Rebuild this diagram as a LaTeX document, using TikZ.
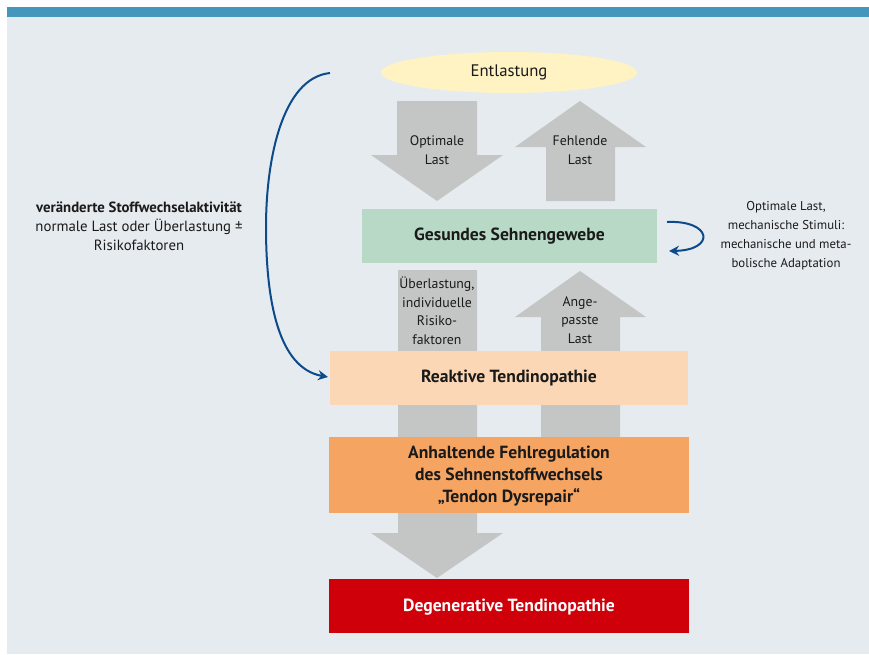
\documentclass[tikz,border=0pt]{standalone}
\usepackage{fontspec}
\setmainfont{PT Sans}
\usetikzlibrary{arrows.meta,shapes.geometric}
\definecolor{bgc}{HTML}{E6EBF0}
\definecolor{barc}{HTML}{4496BC}
\definecolor{ellc}{HTML}{FFF3C4}
\definecolor{grayc}{HTML}{C4C6C5}
\definecolor{greenc}{HTML}{B9D9C7}
\definecolor{peachc}{HTML}{FBD7B5}
\definecolor{orangec}{HTML}{F5A561}
\definecolor{redc}{HTML}{D0000B}
\definecolor{bluec}{HTML}{0D4A8A}
\definecolor{txtc}{HTML}{1A1A1A}
\tikzset{
  boxtxt/.style={font=\fontsize{17.6}{22}\selectfont\bfseries,text=txtc,inner sep=0pt,align=center},
  blockarrow/.style={fill=grayc,draw=none},
  lbl/.style={font=\fontsize{13.8}{18.5}\selectfont,text=txtc,align=center,inner sep=0pt},
  curved/.style={draw=bluec,line width=2pt,-{Stealth[length=10pt,width=10pt]}},
}
\begin{document}
\begin{tikzpicture}[x=1pt,y=-1pt]
\useasboundingbox (0,0) rectangle (869,654);
\fill[white] (0,0) rectangle (869,654);
\fill[bgc] (7,17) rectangle (869,654);
\fill[barc] (7,7) rectangle (869,17);
% block arrows (behind boxes)
\fill[blockarrow] (397,101) -- (477,101) -- (477,155) -- (503,155) -- (437,201) -- (371,155) -- (397,155) -- cycle;
\fill[blockarrow] (580,101) -- (646,147) -- (615,147) -- (615,201) -- (546,201) -- (546,147) -- (515,147) -- cycle;
\fill[blockarrow] (398,270) -- (477,270) -- (477,533) -- (503,533) -- (437,578) -- (371,533) -- (398,533) -- cycle;
\fill[blockarrow] (580,271) -- (646,317) -- (620,317) -- (620,437) -- (541,437) -- (541,317) -- (515,317) -- cycle;
% labels on arrows
\node[lbl] (opt) at (437,150) {Optimale\\Last};
\node[lbl] (fehl) at (580,150) {Fehlende\\Last};
\node[lbl] (ueber) at (437,311) {Überlastung,\\individuelle\\Risiko-\\faktoren};
\node[lbl] (ange) at (580,320) {Ange-\\passte\\Last};
% ellipse
\node[ellipse,fill=ellc,minimum width=256pt,minimum height=41pt,inner sep=0pt,font=\fontsize{16.7}{20}\selectfont,text=txtc] (entl) at (509,72.5) {Entlastung};
% boxes
\fill[greenc] (362,209) rectangle (657,263);
\node[boxtxt] (gesund) at (509.5,236) {Gesundes Sehnengewebe};
\fill[peachc] (330,351) rectangle (688,405);
\node[boxtxt] (reakt) at (509,378) {Reaktive Tendinopathie};
\fill[orangec] (329,437) rectangle (689,513);
\node[boxtxt] (anh) at (509,476) {Anhaltende Fehlregulation\\des Sehnenstoffwechsels\\„Tendon Dysrepair“};
\fill[redc] (329,579) rectangle (689,633);
\node[boxtxt,text=white] (degen) at (509,607) {Degenerative Tendinopathie};
% side texts
\node[lbl,font=\fontsize{14.8}{19}\selectfont] (left) at (139,226) {\textbf{veränderte Stoffwechselaktivität}\\normale Last oder Überlastung ±\\Risikofaktoren};
\node[lbl,font=\fontsize{12.8}{19}\selectfont] (right) at (786,236) {Optimale Last,\\mechanische Stimuli:\\mechanische und meta-\\bolische Adaptation};
% curved arrows
\coordinate (ls) at (330,73);
\coordinate (le) at (328,377);
\draw[curved] (ls) .. controls (282,78) and (266,160) .. (266,227) .. controls (266,300) and (278,368) .. (le);
\coordinate (rs) at (667,222);
\coordinate (re) at (669,251);
\draw[curved] (rs) .. controls (712,220) and (716,250) .. (re);
\end{tikzpicture}
\end{document}
